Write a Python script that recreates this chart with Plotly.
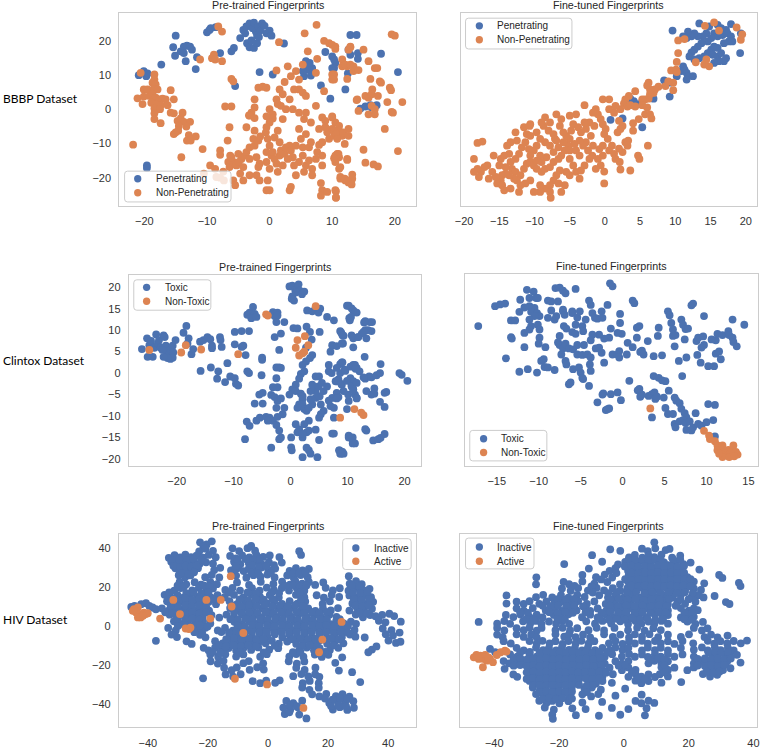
import plotly.graph_objects as go

BLUE = "#4C72B0"
ORANGE = "#DD8452"

# ---------------- BBBP pre-trained ----------------
bbbp_pre_pen = [
    [-15.0,21.7],[-15.4,18.3],[-14.2,17.1],[-13.7,18.5],[-13.2,18.8],[-12.7,18.5],[-12.4,17.6],[-13.7,16.6],[-13.4,14.2],[-15.1,15.8],[-11.6,15.4],[-11.8,11.9],[-17.3,13.2],
    [-10.0,22.7],[-9.6,23.4],[-9.4,23.9],[-8.6,24.2],[-7.9,16.6],[-6.1,17.1],[-5.7,18.1],
    [-4.7,21.0],[-4.2,23.4],[-3.9,22.4],[-3.7,24.4],[-3.2,25.3],[-2.7,23.9],[-2.5,25.5],[-2.2,22.9],[-2.0,21.7],[-1.8,24.4],[-1.5,23.2],[-1.2,25.3],[-0.8,24.6],[-0.5,22.4],[0.0,23.2],[-3.6,19.5],[-3.2,18.3],[-2.5,18.1],[-2.0,19.5],[-1.7,21.3],[-2.9,20.3],[0.3,21.7],[2.3,19.4],
    [-1.6,11.0],[0.5,10.3],[-5.5,6.9],
    [-20.9,10.1],[-20.1,11.3],[-19.7,9.8],[-19.5,10.6],[-19.6,-16.4],[-19.6,-17.2],
    [5.8,14.2],[5.9,12.7],[6.2,11.7],[5.5,9.8],[6.6,10.0],[6.8,12.2],[5.3,11.3],[6.4,13.7],
    [8.9,16.9],[10.0,15.6],[10.5,13.7],[10.3,12.2],[8.2,7.1],[9.7,3.2],[12.1,5.9],
    [12.9,21.9],[13.9,21.9],[12.6,17.6],[14.1,16.6],[14.1,14.9],[12.5,10.6],[12.9,16.1],
    [14.5,0.3],[15.3,0.9],[16.1,1.3],[17.8,16.4],[20.5,11.0],[17.1,1.3],[16.3,0.6],[10.3,14.7],[10.0,12.2],
]
bbbp_pre_non = [
    [-20.6,10.8],[-18.4,10.3],[-18.4,8.8],[-18.7,7.9],[-18.2,7.4],[-20.1,5.9],[-19.5,5.9],[-18.5,6.1],[-17.9,5.9],[-15.8,5.7],
    [-21.1,3.3],[-20.1,3.8],[-19.2,4.0],[-18.7,4.5],[-18.2,3.5],[-17.6,3.0],[-17.1,3.2],[-16.6,3.0],[-15.3,3.0],[-20.3,1.6],
    [-18.9,2.0],[-18.2,1.6],[-17.4,1.3],[-16.3,1.3],[-18.4,0.3],[-17.5,0.1],[-18.4,-1.1],[-15.8,-0.9],[-15.3,-1.1],[-13.9,-0.9],
    [-18.4,-2.8],[-17.4,-4.0],[-14.7,-3.3],[-14.2,-2.6],[-13.7,-3.6],[-12.7,-3.6],[-14.5,-4.8],[-13.3,-5.0],[-15.0,-6.7],[-15.3,-7.2],
    [-14.6,-6.2],[-12.9,-7.5],[-11.8,-7.9],[-13.2,-9.1],[-12.6,-9.1],[-21.8,-10.3],[-14.1,-14.0],
    [-8.2,24.4],[-7.6,22.9],[-8.9,16.1],[-9.2,15.1],[-8.7,14.7],[-11.1,14.7],[-7.6,14.2],[-6.1,9.0],[-5.8,8.3],[1.1,11.5],[1.5,19.8],[5.6,22.4],[7.5,24.9],
    [2.9,12.7],[4.2,11.3],[3.4,9.8],[2.4,8.1],[1.6,5.9],[2.1,4.5],[1.1,3.0],[1.3,1.6],[1.8,1.1],[2.6,0.1],[-0.5,6.4],[-1.1,6.7],[-1.8,6.4],
    [-2.4,3.0],[-2.9,-0.9],[-3.2,-1.8],[0.0,0.1],[0.5,-1.4],[0.5,-2.6],[0.0,-3.8],[-0.5,-2.0],[5.3,13.2],[4.7,5.9],[5.3,5.0],[5.8,4.0],
    [6.1,17.1],[7.6,14.9],[8.7,20.2],[9.5,19.5],[10.5,18.5],[11.6,14.7],[12.4,12.7],[12.9,18.5],[13.4,11.3],[10.0,10.3],[10.3,8.8],[8.7,5.4],
    [7.4,10.8],[4.7,8.8],[3.9,5.9],[3.2,3.0],[3.7,0.1],[4.7,-0.9],[5.5,-2.8],[7.4,1.1],[8.4,-2.3],[10.0,-2.3],[8.9,-3.3],[10.5,-3.8],[11.1,-4.8],
    [12.6,-5.7],[14.2,-0.4],[14.0,3.0],
    [-7.1,0.9],[-6.1,0.9],[-2.4,0.6],[-3.3,-1.7],[-6.4,-5.2],[-6.7,-9.1],[-3.7,-5.2],[-2.4,-2.5],
    [-10.7,-11.6],[-7.9,-12.0],[-9.5,-16.4],[-6.3,-13.5],[-5.0,-13.0],[-6.6,-15.4],[-6.4,-16.9],[-5.8,-15.4],[-5.3,-16.4],[-4.5,-14.5],
    [-3.9,-13.5],[-3.7,-12.5],[-3.2,-11.1],[-2.6,-8.6],[-2.4,-10.6],[-2.1,-14.0],[-1.6,-15.9],[-1.8,-16.9],[-3.2,-14.5],[-4.2,-16.9],
    [-4.7,-18.8],[-5.8,-20.8],[-5.5,-22.2],[-4.2,-20.8],[-3.2,-19.3],[-2.1,-19.3],[-1.6,-20.8],[-0.5,-15.4],[-0.5,-12.5],[0.0,-10.6],
    [-0.6,-6.7],[-0.5,-5.2],[-0.3,-8.6],[0.3,-13.5],[0.5,-12.5],[0.8,-14.5],[1.1,-15.9],[1.6,-13.5],[1.8,-12.0],[2.4,-13.0],
    [2.6,-11.1],[3.2,-10.6],[3.4,-12.0],[3.7,-14.0],[2.9,-14.5],[2.1,-16.4],[1.3,-18.3],[0.0,-17.4],[-0.3,-20.8],[-0.5,-23.7],
    [0.0,-23.7],[3.4,-22.7],[3.2,-23.7],[4.2,-19.3],[4.7,-15.4],[5.3,-13.5],[5.3,-11.1],[5.0,-8.6],[4.7,-5.7],[5.8,-7.2],
    [5.5,-18.3],[5.8,-16.4],[6.3,-14.9],[6.8,-17.4],[7.4,-14.5],[7.6,-12.5],[7.9,-10.4],[8.4,-9.6],[9.2,-6.7],[9.5,-8.6],
    [10.0,-5.7],[10.3,-7.7],[10.8,-13.0],[11.1,-14.0],[10.5,-15.4],[11.1,-17.4],[8.4,-13.5],[8.4,-16.4],[6.8,-19.3],[8.2,-21.6],
    [8.4,-23.7],[8.2,-25.3],[9.2,-24.2],[10.5,-23.7],[10.6,-25.9],[11.3,-20.3],[12.1,-20.8],[12.6,-21.4],[13.2,-20.3],[11.6,-7.7],
    [12.4,-14.5],[1.6,-9.6],[1.3,-6.2],[0.8,-8.2],[6.3,-11.1],[6.6,-9.6],[4.2,-10.6],[3.9,-16.4],[-1.8,-9.1],[-1.5,-7.9],
    [-2.4,-6.2],[2.1,-2.8],[5.8,-0.9],[6.6,-3.8],[7.9,-5.7],[8.9,-5.2],[11.1,-6.2],[-7.9,-13.3],[-6.1,-14.0],[-4.9,-15.4],
    [-8.7,-17.4],[-7.4,-18.2],[-10.5,-18.8],[-8.5,-19.8],[-7.9,-20.0],[-7.3,-20.8],
    [10.0,19.0],[10.5,17.8],[12.6,17.6],[12.9,18.3],[15.0,17.6],[19.5,22.1],[20.0,21.7],[15.8,14.2],[11.6,12.7],[12.1,13.2],
    [12.9,13.2],[13.4,12.7],[14.2,11.6],[16.8,12.2],[17.2,12.2],[10.3,10.3],[10.0,8.8],[12.4,9.0],[16.1,9.0],[17.6,8.3],
    [17.8,7.9],[19.2,6.4],[19.4,5.7],[16.4,5.9],[13.9,2.8],[15.3,4.0],[15.8,3.5],[16.3,4.5],[17.3,4.0],[18.8,2.2],
    [21.2,2.2],[16.3,1.1],[16.8,0.1],[15.8,-1.4],[16.8,-1.4],[19.5,-0.7],[19.7,-0.9],[10.0,-2.0],[18.4,-5.7],[20.5,-12.2],
    [15.0,-11.8],[15.3,-15.6],[16.6,-16.1],[17.3,-16.7],[10.3,-6.2],[10.6,-7.2],[11.8,-6.7],[12.6,-7.7],[10.8,-8.6],[12.0,-10.1],
    [11.0,-13.0],[10.5,-13.5],[10.3,-14.3],[12.4,-14.8],[11.3,-16.9],[11.3,-19.8],[12.0,-20.3],[12.5,-20.8],[13.2,-19.1],[13.1,-22.0],
    [10.6,-24.0],[10.6,-25.8],
]

# ---------------- BBBP fine-tuned ----------------
bbbp_ft_pen = [
    [9.6,23.2],[13.4,25.3],[14.8,24.4],[16.0,24.9],[16.5,23.9],[17.2,23.4],[17.9,25.1],[15.5,22.4],[16.0,21.5],[16.7,21.9],
    [17.4,22.4],[17.9,21.5],[17.6,20.0],[16.9,19.5],[14.4,22.4],[13.9,21.5],[13.2,21.5],[12.7,22.4],[12.3,21.5],[11.8,22.9],
    [11.6,21.0],[11.1,21.5],[15.1,21.0],[14.6,20.0],[13.7,19.5],[13.2,18.5],[12.7,17.6],[12.3,16.8],[12.0,15.6],[12.7,14.7],
    [13.4,15.1],[14.1,15.6],[14.6,16.6],[15.1,17.6],[15.5,18.5],[16.0,18.1],[15.3,16.1],[16.0,15.6],[16.5,16.6],[17.2,15.1],
    [16.9,14.2],[16.2,14.2],[15.5,13.7],[19.2,16.6],[19.3,22.4],[18.1,20.0],
    [11.1,12.7],[11.3,11.7],[11.6,10.8],[11.6,8.8],[11.8,9.8],[12.5,9.8],[10.9,11.3],[10.2,9.8],[9.2,7.9],[8.4,8.6],
    [9.2,3.8],[6.9,3.2],[3.6,3.2],[4.1,2.5],[4.8,1.6],[0.8,-3.0],[2.5,-2.6],[5.3,-5.2],
]
bbbp_ft_non = [
    [14.2,24.6],[15.5,25.6],[16.2,23.2],[18.7,24.1],[19.5,22.1],[19.3,20.5],[10.4,20.3],[11.3,20.7],[10.4,16.6],[10.2,14.0],
    [10.1,11.7],[9.4,11.5],[10.2,11.0],[12.9,13.9],[14.1,13.2],[14.8,12.7],[14.4,14.7],[9.7,7.9],[9.7,5.7],[8.6,6.9],
    [7.6,6.7],[7.1,5.9],[6.9,4.9],[6.4,4.5],[6.2,3.2],[5.7,3.0],[6.2,7.9],[6.4,5.9],[5.3,3.0],[6.0,7.1],[9.0,8.3],
    [4.3,5.4],[3.4,4.0],[2.9,3.0],[2.7,1.8],[3.2,0.9],[3.6,1.3],[4.3,0.9],[5.3,1.3],[6.0,0.6],[6.6,-2.6],
    [4.8,-2.8],[4.0,-4.0],[4.0,-6.2],[2.2,0.1],[2.0,-3.3],[2.5,-4.8],[2.2,-5.7],[1.8,-6.7],[-0.3,3.0],[0.6,3.0],
    [-1.3,0.1],[-1.0,-1.4],[-1.7,-0.9],[-0.6,-2.8],[-0.3,-4.3],[0.1,-5.7],[-0.1,-7.2],[0.4,-8.6],[1.0,-10.6],[0.6,-12.0],
    [1.3,-13.0],[1.5,-14.5],[2.1,-15.4],[2.2,-17.6],[2.9,-9.6],[3.3,-9.1],[3.2,-10.6],[2.5,-12.5],[2.0,-11.5],[3.6,-17.9],
    [4.7,-13.5],[4.9,-14.5],[6.1,-10.6],[0.6,0.1],[1.3,-0.9],[1.5,1.1],[5.7,-1.4],[6.4,-1.4],
    [-2.9,1.3],[-4.1,-1.4],[-5.0,-1.8],[-4.5,-4.3],[-3.8,-5.2],[-2.7,-5.7],[-2.2,-3.8],[-1.5,-4.8],[-3.4,-6.7],[-2.0,-7.7],
    [-2.7,-9.6],[-1.7,-10.6],[-0.8,-11.6],[-0.3,-13.5],[-1.0,-14.5],[-0.6,-16.4],[-1.3,-17.4],[-1.8,-13.5],[-2.4,-12.0],[-3.1,-10.6],
    [-2.2,-14.5],[-2.9,-16.4],[-3.6,-13.5],[-4.1,-12.0],[-4.3,-10.1],[-5.0,-8.6],[-5.5,-7.7],[-4.8,-6.2],[-5.9,-6.7],[-6.4,-4.8],
    [-6.2,-2.8],[-6.9,-1.4],[-7.8,-3.8],[-8.5,-2.3],[-8.7,-4.8],[-8.0,-6.2],[-7.3,-7.2],[-7.1,-8.6],[-7.8,-10.6],[-8.5,-9.6],
    [-9.2,-8.6],[-9.7,-10.6],[-10.1,-12.0],[-10.6,-13.5],[-10.8,-11.6],[-11.3,-9.6],[-11.8,-11.1],[-12.2,-13.0],[-12.7,-14.5],[-13.4,-15.4],
    [-13.2,-17.4],[-12.7,-18.3],[-12.0,-19.3],[-11.5,-17.4],[-11.1,-15.9],[-10.6,-15.4],[-10.1,-16.4],[-9.7,-17.4],[-9.0,-18.3],[-8.5,-17.4],
    [-7.8,-16.9],[-7.3,-15.4],[-6.6,-14.5],[-6.2,-13.5],[-5.7,-12.0],[-5.2,-10.6],[-5.9,-9.6],[-6.6,-11.1],[-7.3,-12.5],[-8.3,-14.0],
    [-9.0,-15.4],[-9.2,-13.5],[-9.7,-15.0],[-5.0,-14.5],[-4.5,-16.4],[-4.1,-18.3],[-3.4,-17.9],[-3.6,-20.3],[-5.0,-19.3],[-5.5,-18.3],
    [-6.4,-17.9],[-6.9,-19.3],[-7.3,-20.8],[-7.8,-22.2],[-8.5,-23.2],[-9.2,-24.2],[-10.1,-24.2],[-7.8,-24.2],[-7.7,-25.9],[-6.2,-24.2],
    [-5.7,-22.2],[-6.6,-21.7],[-10.6,-20.8],[-11.3,-21.7],[-12.0,-22.2],[-12.5,-20.8],[-12.9,-20.3],[-13.6,-19.3],[-14.1,-18.8],[-14.6,-19.3],
    [-14.8,-20.8],[-15.3,-21.7],[-15.5,-19.8],[-16.0,-18.3],[-16.7,-16.4],[-17.1,-16.9],[-17.6,-18.3],[-18.1,-17.4],[-18.6,-18.3],[-18.6,-14.5],
    [-18.1,-9.8],[-17.4,-9.4],[-15.8,-13.5],[-14.8,-14.5],[-14.1,-16.9],[-13.6,-13.0],[-13.9,-10.6],[-12.5,-9.1],[-12.7,-6.7],[-11.5,-5.2],
    [-10.6,-4.3],[-11.1,-7.2],[-9.7,-6.7],[-9.0,-3.8],[-10.6,-7.7],[-13.4,-9.6],[-14.3,-13.5],[-15.0,-16.4],[-17.9,-19.8],[-16.5,-20.3],
    [-14.6,-22.2],[-14.3,-23.7],[-12.2,-24.2],[-9.2,-22.2],[-13.4,-23.2],[-10.7,-4.8],[-6.9,-9.1],[-5.0,-12.0],[-3.6,-9.1],[-2.9,-3.8],
    [-0.3,-10.6],[-0.1,-18.2],[-0.1,-21.7],
]

# ---------------- Clintox pre-trained ----------------
clintox_pre_toxic = [
    [-26.1,5.6],[-25.2,8.1],[-24.8,6.5],[-24.5,7.5],[-23.9,5.9],[-23.6,9.0],[-23.3,6.9],[-23.1,7.7],[-22.8,5.9],[-22.3,8.8],
    [-22.1,8.4],[-21.9,6.4],[-21.7,5.0],[-21.5,4.1],[-21.0,5.4],[-20.7,6.4],[-20.6,4.8],[-21.1,3.3],[-20.7,3.6],[-21.6,3.5],
    [-25.1,3.8],[-24.2,3.8],[-22.3,3.8],[-22.5,5.4],[-20.2,7.7],[-18.8,9.4],[-18.3,11.0],[-17.9,8.1],[-18.1,6.9],[-17.4,4.4],
    [-17.1,5.6],[-15.9,7.3],[-15.3,7.7],[-14.6,8.4],[-14.1,7.9],[-13.8,5.8],[-13.8,6.4],[-12.4,8.4],[-12.3,7.7],[-12.1,6.1],
    [-15.8,0.5],[-14.0,1.3],[-12.7,0.4],[-12.9,-1.3],[-11.5,-2.1],[-11.1,2.3],[-10.6,-0.8],[-9.8,-1.2],[-9.6,-2.5],[-9.2,-2.9],
    [-9.8,9.6],[-8.6,9.8],[-7.3,9.8],[-9.8,6.7],[-8.6,6.1],[-8.3,6.4],[-7.9,4.2],[-7.6,0.4],[-7.3,0.0],[-5.0,3.6],
    [-5.0,3.1],[-5.1,-0.5],[-5.5,-5.0],[-6.3,-7.1],[-4.9,-4.6],[-4.9,-7.1],[-6.0,-11.1],[-5.4,-10.4],[-7.7,-11.3],[-7.2,-12.3],
    [-8.0,-15.4],[-7.6,13.6],[-7.2,14.1],[-6.6,15.4],[-6.3,13.8],[-6.9,12.8],[-6.0,13.1],[-3.1,14.2],[-2.8,13.3],[-2.3,14.1],
    [-2.3,13.4],[-2.5,11.9],[-2.8,8.4],[-1.7,9.2],[-2.0,5.4],[-2.5,1.3],[-2.0,1.3],[-1.7,1.2],[-2.5,-1.2],[-3.1,-3.3],
    [-2.3,-3.3],[-3.4,-5.1],[-2.8,-5.6],[-2.3,-6.5],[-1.7,-5.9],[-2.5,-8.1],[-1.1,-8.1],[-1.4,-9.6],[-4.3,-10.2],[-3.7,-10.4],
    [-3.1,-11.1],[-4.0,-11.1],[-2.3,-10.2],[-2.5,-12.1],[-2.0,-13.4],[-1.7,-15.0],[-2.0,-15.4],[-3.4,-17.4],
    [-0.2,20.2],[0.3,20.4],[0.8,19.4],[1.4,20.7],[1.6,19.2],[0.9,18.8],[2.0,18.4],[0.3,17.9],[0.6,16.9],[0.2,17.3],
    [2.4,19.0],[-1.1,11.9],[0.5,10.5],[1.2,10.4],[2.8,10.8],[3.4,9.6],[2.9,14.6],[3.8,14.4],[4.4,15.0],[4.9,14.1],
    [5.2,15.0],[5.1,9.6],[6.4,13.1],[7.6,12.3],[3.7,7.8],[2.7,5.9],[3.8,4.2],[3.4,3.5],[2.7,2.7],[2.1,1.9],
    [1.8,-0.2],[2.4,0.4],[1.5,-1.3],[0.9,-2.7],[0.3,-3.8],[0.9,-4.2],[-0.2,-5.0],[1.8,-4.8],[2.1,-5.4],[2.1,-6.1],
    [1.5,-7.3],[2.1,-7.3],[1.2,-8.1],[2.4,-8.4],[2.8,-8.8],[3.2,-8.1],[3.8,-7.3],[3.5,-6.1],[4.4,-5.8],[5.1,-5.4],
    [5.3,-7.3],[4.4,-4.2],[3.5,-4.2],[3.8,-2.7],[4.9,-3.1],[5.0,-0.8],[4.4,-0.8],[5.5,-2.3],[5.8,-4.2],[6.4,-3.1],
    [6.7,0.4],[6.7,1.9],[7.2,0.0],[7.9,-1.9],[8.4,-1.5],[9.0,-2.7],[8.7,0.0],[9.5,0.8],[8.7,2.1],[9.0,2.5],
    [7.0,5.0],[7.3,6.5],[8.1,6.3],[9.0,6.9],[9.1,8.8],[8.9,9.4],[8.1,-4.6],[7.3,-5.8],[6.7,-6.4],[7.0,-7.7],
    [5.8,-8.8],[5.3,-9.6],[5.0,-10.4],[3.2,-11.1],[2.4,-11.9],[1.5,-13.1],[0.9,-11.9],[1.2,-13.8],[2.1,-15.0],[2.8,-13.8],
    [3.2,-13.4],[4.4,-13.2],[2.1,-14.2],[0.1,-15.0],[0.1,-17.3],[0.2,-18.0],[2.8,-17.4],[3.2,-18.0],[3.5,-18.8],[2.1,-19.6],
    [4.7,-19.6],[5.0,-15.6],[7.3,-14.1],[8.6,-18.0],[9.0,-18.4],[8.7,-18.8],[10.2,-15.0],[10.8,-15.4],[10.9,-16.4],[7.6,-10.4],
    [9.9,-8.4],[10.2,-6.5],[10.1,-5.0],[9.3,-4.2],[11.0,-3.8],[11.3,-5.0],[11.6,-5.8],[10.5,-1.2],[10.7,-2.7],[11.0,-1.9],
    [10.5,1.5],[11.3,1.9],[11.6,1.2],[12.1,0.4],[13.1,-1.3],[13.8,-0.8],[14.2,-5.0],[13.3,-13.4],[10.7,8.8],[11.0,8.1],
    [11.9,8.4],[12.5,9.2],[13.1,10.0],[13.9,11.9],[13.6,10.0],[10.3,12.8],[10.4,12.3],[11.0,14.6],[11.6,14.1],[10.2,15.7],
    [10.7,15.1],[9.9,15.7],[11.3,14.2],[10.6,13.1],[12.9,11.8],[13.1,12.1],[14.3,11.9],[8.7,9.8],[9.3,8.7],[11.8,8.4],
    [12.8,9.6],[13.3,8.1],[14.2,9.8],[11.0,6.0],[13.0,3.8],[9.2,6.9],[9.1,2.5],[8.1,1.2],[9.6,0.5],[11.0,1.9],
    [11.4,1.0],[12.8,-1.0],[14.2,-1.0],[15.1,-0.5],[15.7,0.0],[15.8,2.1],[19.1,0.0],[19.5,-0.4],[20.5,-1.8],[8.1,-1.9],
    [8.9,-2.5],[9.9,-1.8],[10.7,-3.1],[11.6,-2.3],[11.0,-3.8],[13.3,-4.2],[14.7,-3.6],[14.7,-4.8],[16.5,-4.6],[16.8,-4.4],
    [15.7,-6.7],[16.5,-7.9],[8.4,-5.6],[8.1,-5.9],[11.6,-5.9],[7.6,-8.1],[13.1,-13.1],[7.6,-14.1],[10.2,-14.6],[10.9,-15.0],
    [11.3,-16.4],[14.5,-15.7],[15.4,-15.4],[15.8,-15.1],[16.5,-14.2],[8.5,-18.0],[9.1,-18.4],[9.3,-18.8],[8.9,-18.8],
]
clintox_pre_non = [
    [-24.8,5.4],[-18.4,6.5],[-19.2,4.8],[-15.7,5.5],[-9.2,4.4],[-4.3,13.7],[-4.0,13.4],[4.4,15.6],
    [1.2,7.7],[2.5,8.6],[0.9,5.9],[1.5,4.1],[2.1,4.6],[2.4,5.0],[3.1,6.5],
    [8.7,-10.4],[11.2,-8.4],[12.4,-9.2],[12.8,-9.8],
]

# ---------------- Clintox fine-tuned ----------------
clintox_ft_toxic = [
    [-17.2,10.8],[-15.2,15.4],[-14.6,15.8],[-14.0,16.0],[-13.3,12.1],[-12.8,12.1],[-13.3,8.2],[-13.2,7.9],[-13.9,3.3],[-12.3,0.2],
    [-11.4,19.2],[-10.6,18.8],[-12.2,16.9],[-12.3,14.1],[-11.7,15.1],[-11.1,17.3],[-10.3,17.3],[-10.1,17.3],
    [-11.1,15.4],[-10.5,15.0],[-10.9,14.1],[-10.2,13.8],[-9.9,13.1],[-10.5,13.1],[-11.1,12.3],[-10.9,10.8],[-11.7,9.2],[-11.7,5.9],
    [-11.1,10.0],[-10.1,11.1],[-9.9,10.0],[-9.9,8.1],[-10.0,6.7],[-9.2,5.9],[-9.7,2.7],[-9.4,3.1],[-9.3,1.3],[-8.9,1.2],
    [-11.3,0.8],[-10.2,0.0],[-8.1,0.6],[-8.9,16.7],[-8.5,16.5],[-8.5,14.4],[-8.9,12.7],[-8.1,12.3],[-7.9,13.1],
    [-8.0,19.6],[-7.5,19.7],[-7.1,19.0],[-6.8,18.4],[-7.7,16.5],[-7.1,14.6],[-7.1,14.2],[-6.9,13.4],[-7.0,10.8],[-6.7,10.2],
    [-7.5,8.5],[-7.7,7.0],[-7.5,6.4],[-7.1,5.6],[-7.3,4.2],[-6.8,6.7],[-6.4,5.6],[-6.8,2.7],[-6.4,-2.7],[-6.2,-2.3],
    [-5.6,19.4],[-6.0,14.2],[-6.0,13.8],[-5.4,12.8],[-5.1,14.2],[-5.6,11.1],[-6.0,9.4],[-5.6,9.0],[-4.8,10.8],[-4.7,9.6],
    [-4.4,12.3],[-4.0,16.7],[-3.8,15.7],[-3.6,13.8],[-3.3,12.7],[-3.0,12.5],[-2.5,14.2],[-2.4,12.7],[-1.8,15.7],[-1.5,20.7],
    [-1.2,20.0],[-0.3,13.6],[-0.3,11.5],[-0.1,9.0],[-0.6,9.2],[-1.4,10.2],[-1.6,8.1],[-2.2,7.9],[-2.8,8.8],[-3.6,8.8],
    [-3.8,7.5],[-4.6,6.4],[-5.4,6.4],[-5.9,5.4],[-5.4,4.2],[-4.8,4.1],[-4.2,4.2],[-3.8,3.5],[-3.2,5.6],[-2.8,5.8],
    [-2.5,4.6],[-2.2,2.3],[-1.2,4.2],[-0.6,4.2],[-0.4,5.0],[0.5,4.2],[0.6,6.9],[-0.4,3.5],
    [-6.7,1.9],[-5.9,0.8],[-5.2,1.2],[-5.0,0.0],[-4.7,-1.5],[-4.0,-3.1],[-4.8,-1.2],[-3.8,0.4],[-3.9,1.9],
    [-3.0,-6.9],[-2.4,-5.1],[-2.3,-4.8],[-1.4,-5.0],[-0.6,-4.6],[-0.2,-6.4],[-2.0,-8.7],[-1.6,-8.3],[-1.8,-8.5],
    [0.8,-1.9],[1.8,-4.1],[2.0,-3.8],[2.3,-5.1],[1.2,5.9],[2.1,4.8],[2.3,5.1],[2.5,4.2],[3.0,7.3],[3.7,3.8],
    [4.7,4.0],[1.2,16.7],[1.4,16.1],[1.7,10.4],[2.0,10.8],[1.7,8.1],[4.2,8.5],[4.3,10.4],[5.4,14.2],[5.6,13.3],
    [5.8,11.5],[6.0,10.0],[6.0,8.5],[6.3,8.7],[6.2,6.1],[6.7,2.7],[7.0,12.3],[7.2,11.1],[7.5,10.1],[7.8,10.2],
    [8.2,15.6],[8.4,16.0],[7.4,7.7],[7.6,3.5],[7.1,-0.8],
    [8.8,7.3],[9.0,8.1],[9.6,8.4],[9.7,6.4],[8.9,4.1],[9.4,5.8],[9.3,2.3],[10.2,1.5],[10.9,1.5],[11.1,4.4],
    [11.7,3.1],[11.5,4.9],[11.1,7.5],[10.6,7.7],[9.7,13.1],[11.3,9.0],[11.9,8.7],[12.6,9.6],[12.7,8.7],[13.1,8.1],
    [13.2,7.1],[13.6,6.1],[13.1,12.3],[14.5,11.1],
    [2.1,-5.6],[3.7,-0.8],[4.3,-1.2],[4.7,-1.8],[5.1,-2.0],[3.1,-5.4],[3.5,-5.0],[3.8,-4.6],[3.9,-6.1],[3.5,-10.4],
    [4.1,-5.6],[4.9,-5.8],[5.1,-8.2],[5.4,-9.6],[6.0,-9.6],[6.2,-11.9],[6.3,-12.7],[5.5,-4.2],
    [6.2,-5.8],[6.4,-6.5],[6.8,-7.1],[7.0,-8.4],[7.4,-9.4],[7.6,-10.4],[7.2,-11.0],[6.8,-11.3],[7.5,-11.7],[8.0,-11.3],
    [8.4,-12.7],[8.7,-9.4],[7.6,-13.3],[8.2,-13.4],[9.0,-11.9],[9.4,-12.3],[10.0,-11.5],[10.2,-7.3],[11.0,-7.5],[10.8,-11.0],
    [11.0,-14.8],
]
clintox_ft_non = [
    [3.3,-8.3],[9.7,-13.5],[10.3,-14.6],[10.4,-15.4],[11.0,-15.9],[11.3,-16.9],[11.3,-18.0],[11.7,-17.7],[11.9,-16.9],[12.1,-18.4],
    [12.3,-19.2],[12.6,-17.9],[12.8,-18.8],[13.1,-18.0],[13.2,-16.9],[13.5,-18.4],[13.7,-19.0],[11.9,-19.6],[12.7,-19.6],[13.3,-19.4],
    [11.5,-18.8],
]

# ---------------- HIV pre-trained ----------------
hiv_pre_inactive = [
    [-22.6,42.9],[-20.4,41.8],[-18.7,43.4],[-21.5,40.6],
    [-22.9,38.2],[-20.8,39.6],[-18.3,38.5],[-11.8,39.8],[-9.6,38.4],[-6.8,39.9],[-4.3,38.6],[-5.6,41.0],[10.4,38.3],[11.0,36.4],
    [-33.0,34.9],[-31.1,36.3],[-29.2,35.1],[-27.5,36.6],[-25.6,35.3],[-23.8,36.0],[-21.6,35.0],[-19.7,36.4],[-17.4,35.2],[-12.6,35.9],
    [-10.7,34.6],[-8.6,36.2],[-6.2,35.1],[-3.9,36.5],[-1.6,35.4],[0.6,36.1],[3.8,35.3],
    [-32.2,32.9],[-30.4,31.5],[-28.3,32.8],[-26.6,31.6],[-24.7,33.0],[-22.8,31.7],[-20.6,32.6],[-18.3,31.9],[-11.3,32.9],[-9.2,31.6],
    [-6.4,32.2],[-4.1,33.1],[-2.0,31.6],[0.3,32.7],[2.0,31.2],[4.6,32.5],
    [-30.8,29.5],[-29.0,28.0],[-27.1,29.3],[-25.3,28.2],[-23.3,29.6],[-17.9,28.6],[-15.9,29.8],[-12.3,28.4],[-10.2,29.6],[-8.1,28.1],
    [-6.4,29.3],[-4.3,28.5],[-2.2,29.9],[0.1,28.7],[2.4,29.4],[7.2,28.2],[9.3,29.6],[11.5,28.5],[13.6,29.2],
    [-29.7,26.0],[-27.6,24.9],[-25.8,25.9],[-20.9,25.0],[-18.7,26.2],[-16.2,24.8],[-10.6,25.8],[-7.2,24.7],[-4.8,26.0],[-2.5,25.2],
    [-0.2,26.3],[2.2,24.8],[6.4,25.9],[8.6,24.6],[10.9,26.1],[13.2,25.0],[26.9,25.5],
    [-29.4,22.6],[-27.2,21.3],[-24.4,22.4],[-22.3,21.1],[-19.2,22.5],[-17.0,21.4],[-10.3,22.3],[-6.3,21.0],[-2.4,22.6],[1.8,21.5],
    [4.7,22.7],[7.3,21.2],[9.1,22.9],[11.4,21.6],[13.6,22.5],[15.7,21.0],[18.4,22.3],[27.2,21.6],[29.3,22.9],[31.2,21.4],
    [-31.2,18.1],[-29.0,19.4],[-25.2,18.2],[-23.0,19.5],[-20.6,18.0],[-18.3,19.2],[-14.2,18.4],[-11.8,19.5],[-9.3,18.1],[-5.3,19.3],
    [-2.8,18.0],[-0.4,19.6],[2.0,18.3],[4.6,19.4],[7.0,18.1],[9.6,19.3],[12.1,18.0],[19.2,19.5],[21.6,18.2],[23.9,19.3],
    [26.8,18.0],[29.2,19.4],[31.7,18.3],[33.8,19.0],
    [-34.4,15.9],[-32.3,14.6],[-30.1,15.7],[-28.2,14.5],[-26.0,16.0],[-23.6,14.8],[-21.3,15.9],[-19.0,14.6],[-16.8,15.8],[-14.4,14.7],
    [-11.3,15.9],[-8.2,14.6],[-5.4,16.0],[-2.6,14.7],[0.6,15.8],[3.6,14.5],[9.3,15.9],[12.1,14.7],[16.2,15.7],[18.6,14.4],
    [21.2,15.9],[23.7,14.8],[27.1,15.6],[29.6,14.5],[32.2,15.8],[34.3,14.7],
    [-33.6,12.6],[-31.2,11.4],[-28.8,12.5],[-26.6,11.2],[-24.5,12.7],[-22.1,11.5],[-19.7,12.4],[-17.3,11.1],[-12.8,12.6],[-10.2,11.3],
    [-7.6,12.5],[-5.3,11.2],[-2.9,12.8],[-0.4,11.5],[2.1,12.6],[4.7,11.3],[7.2,12.7],[9.8,11.4],[12.4,12.5],[18.2,11.2],
    [20.6,12.6],[28.1,11.5],[30.4,12.8],[32.8,11.3],[35.0,12.3],
    [-35.3,9.0],[-33.1,7.8],[-30.8,9.1],[-28.7,7.9],[-26.3,9.2],[-24.1,7.7],[-21.8,8.9],[-19.6,7.8],[-12.6,9.1],[-10.0,7.8],
    [-7.7,9.2],[-5.1,8.0],[-1.8,9.0],[0.7,7.7],[3.3,9.1],[5.8,7.9],[8.4,9.2],[10.9,7.8],[13.4,8.9],[15.8,7.6],
    [18.3,9.0],[20.9,7.9],[23.3,9.1],[27.1,7.8],[29.7,9.2],[32.0,7.9],[34.6,8.8],
    [-32.7,5.7],[-30.4,4.4],[-28.3,5.6],[-26.2,4.3],[-23.9,5.8],[-21.7,4.6],[-18.8,5.5],[-16.2,4.2],[-13.8,5.7],[-11.3,4.5],
    [-8.7,5.9],[-6.8,4.4],[-4.4,5.6],[-2.1,4.3],[0.4,5.8],[2.8,4.6],[5.3,5.7],[7.8,4.4],[10.2,5.9],[12.8,4.5],
    [15.3,5.6],[17.8,4.3],[20.4,5.7],[22.8,4.6],[29.2,5.8],[31.6,4.4],[34.0,5.5],[35.8,4.9],[38.0,5.6],[40.4,6.2],[42.0,5.0],
    [-31.3,2.3],[-29.1,1.0],[-26.7,2.2],[-24.3,1.1],[-21.6,2.4],[-19.2,1.2],[-11.2,2.1],[-8.8,0.9],[-6.3,2.3],[-3.7,1.0],
    [-1.3,2.5],[1.2,1.1],[3.6,2.2],[6.2,0.9],[8.6,2.4],[11.1,1.2],[13.7,2.3],[16.1,1.0],[18.6,2.2],[20.8,0.9],
    [22.7,2.5],[25.2,1.2],[27.6,2.1],[29.3,1.0],[36.9,2.6],[39.1,1.8],[44.2,2.1],
    [-33.2,-1.1],[-30.7,-2.4],[-25.7,-1.2],[-23.2,-2.3],[-20.8,-1.0],[-16.7,-2.4],[-14.3,-1.1],[-11.7,-2.5],[-9.2,-1.0],[-6.7,-2.3],
    [-4.2,-1.2],[-1.6,-2.5],[0.8,-1.0],[3.3,-2.3],[5.8,-1.1],[8.3,-2.4],[10.9,-1.0],[13.3,-2.2],[15.8,-1.1],[18.2,-2.4],
    [20.6,-1.2],[23.1,-2.3],[25.4,-1.0],[28.8,-2.1],[38.2,-1.4],[41.1,-2.2],
    [-32.1,-4.5],[-30.3,-5.8],[-22.6,-4.6],[-20.8,-5.9],[-12.7,-4.4],[-10.3,-5.7],[-7.8,-4.6],[-5.2,-5.8],[-2.7,-4.3],[-0.2,-5.6],
    [2.3,-4.4],[4.8,-5.9],[7.1,-4.5],[9.6,-5.7],[12.2,-4.4],[14.6,-5.8],[17.2,-4.6],[19.6,-5.9],[22.1,-4.4],[24.6,-5.7],
    [27.3,-4.5],[29.1,-5.6],[32.2,-6.0],[39.2,-4.3],[41.6,-5.0],[43.8,-3.5],
    [-37.3,-7.7],[-27.1,-8.0],[-25.4,-9.3],[-17.6,-7.9],[-15.1,-9.1],[-12.7,-7.8],[-10.2,-9.2],[-7.7,-8.0],[-5.2,-9.3],[-2.7,-7.9],
    [-0.8,-9.0],[1.3,-7.7],[3.6,-9.2],[6.4,-8.1],[9.4,-9.3],[11.8,-7.9],[14.4,-9.1],[16.9,-7.8],[19.7,-9.2],[22.3,-8.0],
    [25.1,-9.0],[40.1,-7.6],[42.6,-8.8],[44.1,-8.2],
    [-21.4,-11.3],[-19.8,-12.6],[-17.6,-11.2],[-15.2,-12.5],[-13.1,-11.4],[-10.6,-12.7],[-8.1,-11.3],[-5.6,-12.4],[-3.2,-11.1],[0.4,-12.3],
    [3.4,-11.5],[10.4,-12.5],[12.9,-11.2],[15.3,-12.6],[17.2,-11.5],[20.6,-12.4],[23.4,-11.3],[34.6,-12.2],[36.1,-10.6],
    [-19.2,-14.7],[-16.6,-15.9],[-14.2,-14.6],[-10.6,-15.8],[-8.2,-14.7],[-2.6,-15.9],[-0.4,-14.6],[7.1,-15.8],[9.4,-14.5],[11.8,-15.9],
    [15.6,-14.8],[17.9,-16.0],[20.1,-14.9],[24.7,-16.2],[33.4,-13.6],
    [-19.1,-18.2],[-16.7,-19.4],[-14.8,-18.0],[-8.2,-19.2],[-6.4,-18.1],[-1.6,-19.3],[6.9,-18.2],[9.6,-19.5],[12.1,-18.3],[22.4,-19.0],
    [-21.6,-27.0],[-14.6,-21.5],[-12.1,-22.8],[-10.4,-21.4],[-6.1,-22.6],[-3.6,-21.3],[-1.4,-22.5],[9.4,-21.6],[12.2,-22.7],[15.8,-21.5],
    [23.6,-23.0],[28.0,-23.8],
    [-14.1,-25.0],[-11.6,-26.1],[-9.1,-24.9],[8.4,-25.9],[11.1,-24.8],[13.4,-26.0],[15.7,-24.9],[17.1,-26.2],
    [-5.1,-28.4],[-2.6,-29.5],[-0.6,-28.2],[2.4,-29.3],[3.9,-28.0],[11.6,-29.4],[13.9,-28.3],[16.9,-29.5],[30.7,-28.9],
    [11.4,-31.7],[13.8,-32.9],[16.9,-31.8],
    [14.7,-35.2],[17.1,-36.3],[19.4,-35.0],[22.6,-36.1],[24.8,-35.1],[27.1,-36.4],
    [6.1,-38.6],[8.4,-39.7],[11.4,-38.5],[20.4,-39.6],[22.9,-38.4],[25.6,-39.8],[28.4,-38.7],[25.7,-38.3],
    [5.1,-42.0],[7.4,-43.1],[9.9,-41.9],[21.6,-43.0],[23.9,-41.8],[26.4,-43.2],[28.6,-42.1],
    [5.6,-45.3],[7.1,-44.4],[10.4,-45.6],[12.8,-47.6],
    [-45.5,9.7],[-44.4,10.2],[-42.2,11.1],[-40.6,11.6],[-39.5,10.2],[-38.4,9.4],[-37.3,8.5],
    # denser core regions
    [-31.8,33.9],[-29.6,34.2],[-27.0,33.7],[-24.9,34.4],[-22.3,33.8],[-10.1,33.6],[-7.5,34.3],[-5.0,33.9],[-2.7,34.4],
    [-31.5,30.8],[-29.2,30.2],[-27.4,30.9],[-25.5,30.4],[-23.8,31.0],[-10.8,30.6],[-5.3,30.9],[-3.0,30.3],[-0.6,30.7],
    [-28.5,27.2],[-26.4,26.6],[-24.6,27.5],[-11.3,27.0],[-5.6,27.3],[-3.2,26.8],[1.0,27.2],[8.3,27.1],[10.3,26.9],[12.5,27.4],
    [-30.1,20.6],[-28.0,20.1],[-21.4,20.8],[-19.5,20.2],[5.8,20.5],[8.3,20.9],[10.6,20.3],[12.8,20.7],[28.0,20.6],[30.4,20.2],
    [-32.9,17.1],[-27.2,16.8],[-24.8,17.3],[-22.2,16.7],[-19.8,17.2],[-12.8,17.0],[-6.8,17.1],[-3.9,16.7],[1.3,17.2],[3.7,16.8],
    [10.6,17.0],[28.3,17.1],[30.7,16.8],[33.1,17.3],
    [-33.0,13.8],[-30.6,13.4],[-27.4,13.9],[-25.1,13.3],[-22.8,13.8],[-18.2,13.5],[-9.4,13.6],[-6.6,13.2],[-4.1,13.9],[-1.4,13.4],
    [1.5,13.7],[11.0,13.5],[28.6,13.7],[31.2,13.3],[33.6,13.8],
    [-32.4,10.4],[-29.9,9.9],[-27.5,10.6],[-25.3,10.0],[-23.0,10.5],[-20.6,10.1],[-11.4,10.3],[-8.8,10.0],[-6.3,10.6],[-3.7,10.2],
    [-1.1,10.5],[1.5,10.0],[4.0,10.4],[6.6,10.1],[9.1,10.6],[11.6,10.2],[29.0,10.4],[31.4,10.0],[33.5,10.5],
    [-34.2,6.9],[-31.9,6.5],[-29.6,7.1],[-27.3,6.6],[-25.1,7.0],[-22.8,6.4],[-20.6,6.9],[-11.3,6.7],[-8.6,6.5],[-6.2,7.0],
    [-3.4,6.6],[-0.8,7.1],[1.9,6.4],[4.4,6.9],[7.0,6.5],[9.6,7.0],[12.1,6.6],[14.6,7.0],[17.1,6.5],[19.6,7.0],[30.4,6.7],[32.9,6.4],
    [-30.0,3.5],[-27.5,3.2],[-25.2,3.7],[-22.9,3.1],[-12.5,3.4],[-10.0,3.2],[-7.5,3.6],[-5.2,3.1],[-2.6,3.5],[-0.1,3.2],
    [2.4,3.7],[4.9,3.3],[7.4,3.6],[9.9,3.1],[12.4,3.5],[14.9,3.2],[17.4,3.6],[19.6,3.3],[23.9,3.4],
    [-30.0,-0.1],[-27.6,0.3],[-25.0,-0.2],[-22.5,0.2],[-20.1,-0.3],[-10.2,0.1],[-7.7,-0.3],[-5.2,0.2],[-2.8,-0.2],[-0.3,0.3],
    [2.2,-0.1],[4.7,0.2],[7.2,-0.3],[9.7,0.1],[12.2,-0.2],[14.7,0.3],[17.2,-0.1],[19.5,0.2],[22.0,-0.2],[24.3,0.3],[26.6,-0.1],
    [-24.5,-3.3],[-21.9,-3.6],[-15.5,-3.2],[-13.0,-3.5],[-10.5,-3.3],[-8.0,-3.7],[-5.5,-3.2],[-3.0,-3.5],[-0.5,-3.3],[2.0,-3.6],
    [4.5,-3.2],[7.0,-3.5],[9.5,-3.3],[12.0,-3.6],[14.5,-3.2],[17.0,-3.5],[19.4,-3.3],[21.9,-3.6],[24.2,-3.1],[26.5,-3.4],
    [-13.9,-6.9],[-11.3,-6.6],[-8.8,-7.0],[-6.3,-6.6],[-3.8,-7.1],[-1.5,-6.7],[8.2,-6.9],[10.8,-6.5],[13.3,-7.0],[15.8,-6.7],
    [18.4,-7.1],[21.0,-6.6],[23.7,-7.0],
    [-16.3,-10.1],[-14.0,-10.5],[-11.5,-10.0],[-9.0,-10.4],[-6.5,-10.1],[-4.0,-10.5],[2.3,-10.2],[11.4,-10.3],[13.9,-10.0],[16.3,-10.4],[21.8,-10.1],
    [-18.4,-13.5],[-15.9,-13.8],[-9.3,-13.5],[-1.4,-13.7],[8.3,-13.6],[10.8,-13.4],[16.4,-13.7],[19.0,-13.4],
    [19.0,-37.4],[21.5,-37.9],[24.0,-37.2],[26.5,-37.6],[21.0,-41.2],[23.5,-40.8],[26.0,-41.4],[7.3,-40.9],[9.6,-41.3],
]
hiv_pre_active = [
    [-12.4,25.5],[-31.5,13.3],[-20.5,13.3],[-15.7,13.3],[-12.1,9.9],[-29.3,6.0],[-19.2,3.7],[-35.9,3.7],
    [-27.4,-1.4],[-25.8,-0.9],[-26.3,-1.7],[-8.2,-3.7],[18.1,-7.1],[17.0,-13.6],[-11.0,-27.2],[-0.3,-30.1],
    [11.8,-42.2],[24.5,2.0],
    [-45.0,7.7],[-43.9,6.8],[-43.3,9.4],[-42.8,6.0],[-42.2,5.1],[-41.3,6.8],[-40.6,6.0],[-40.0,6.5],
    [-43.3,4.3],[-42.4,4.3],[-41.6,5.1],[-44.6,8.5],
]

# ---------------- HIV fine-tuned ----------------
hiv_ft_inactive = [
    [9.4,42.9],
    [-4.2,39.3],[-1.1,38.5],[5.6,39.6],[7.4,38.4],[9.7,39.8],[12.9,38.9],[14.1,39.5],
    [-9.8,36.3],[1.6,35.1],[3.4,36.4],[5.7,35.0],[7.6,36.2],[9.4,35.2],[11.6,36.5],[14.9,35.0],[17.4,36.0],
    [-18.4,31.7],[-6.7,32.9],[-1.8,31.6],[0.4,32.8],[2.6,31.4],[4.5,32.9],[6.6,31.6],[8.4,32.7],[10.6,31.5],[12.4,32.6],
    [13.8,31.1],[16.1,32.8],[18.4,31.7],[20.6,32.5],
    [-10.8,29.4],[-4.4,28.2],[-2.6,29.6],[1.3,28.3],[3.6,29.5],[5.4,28.1],[7.6,29.7],[9.4,28.4],[11.6,29.6],[13.4,28.2],
    [15.6,29.5],[17.6,28.3],[23.3,28.9],
    [-27.0,24.9],[-12.8,26.1],[-8.6,25.0],[-5.9,26.3],[-3.6,24.8],[1.5,26.1],[3.4,24.7],[5.6,26.2],[7.4,24.9],[9.6,26.0],
    [11.4,24.6],[13.6,25.9],[15.4,24.8],[17.6,26.1],[19.6,25.0],[29.4,26.1],[30.4,24.6],
    [-27.1,21.3],[-18.6,22.6],[-16.9,21.4],[-12.8,22.8],[-9.1,21.6],[-5.1,22.5],[-1.2,21.3],[1.3,22.7],[3.6,21.5],[5.4,22.9],
    [7.6,21.4],[9.4,22.6],[11.6,21.2],[13.4,22.8],[15.6,21.6],[17.4,22.5],[19.6,21.1],[21.6,22.7],[24.8,21.8],[35.5,22.1],
    [-19.1,19.2],[-16.4,18.0],[-14.1,19.4],[-11.1,18.1],[-8.4,19.5],[-6.1,18.2],[-3.4,19.3],[-1.1,18.0],[1.1,19.4],[2.9,18.1],
    [5.1,19.6],[6.9,18.2],[9.1,19.3],[10.9,18.0],[13.1,19.5],[14.9,18.2],[17.1,19.4],[18.9,18.0],[21.6,19.2],[23.8,18.4],
    [-36.2,15.6],[-27.1,14.7],[-24.9,15.9],[-22.1,14.6],[-19.4,15.8],[-17.1,14.5],[-14.4,15.9],[-12.1,14.8],[-7.6,15.7],[-4.9,14.5],
    [-2.6,15.9],[0.1,14.6],[2.4,15.8],[5.1,14.4],[7.4,16.0],[10.1,14.7],[12.4,15.8],[15.1,14.5],[17.6,15.9],[20.9,14.8],
    [22.9,15.7],[24.6,14.6],[28.0,15.3],
    [-36.2,11.4],[-33.1,12.4],[-30.9,11.2],[-29.1,12.6],[-26.1,11.3],[-23.9,12.5],[-21.6,11.1],[-19.1,12.6],[-16.4,11.4],[-14.1,12.7],
    [-11.4,11.3],[-9.1,12.5],[-5.6,11.2],[-2.9,12.6],[-0.6,11.4],[2.1,12.7],[4.4,11.1],[7.1,12.4],[9.4,11.3],[12.1,12.6],
    [13.6,11.0],[16.6,12.5],[18.9,11.3],[22.1,12.4],[31.5,12.2],[32.6,11.2],
    [-33.1,9.0],[-30.9,7.8],[-28.1,9.1],[-24.1,7.9],[-21.4,9.2],[-19.1,7.7],[-16.9,9.0],[-14.6,7.9],[-11.9,9.3],[-10.4,7.6],
    [-8.1,8.9],[-5.4,7.8],[-3.1,9.2],[-0.4,7.9],[1.9,9.1],[4.6,7.7],[6.9,9.0],[9.6,7.8],[11.9,9.3],[13.6,7.9],
    [17.6,9.1],[20.1,7.8],[21.6,9.0],[22.8,8.0],
    [-36.4,5.6],[-34.1,4.5],[-31.9,5.8],[-29.1,4.4],[-26.9,5.7],[-25.1,4.3],[-21.6,5.6],[-19.4,4.6],[-17.1,5.9],[-12.9,4.4],
    [-10.4,5.7],[-8.1,4.3],[-5.4,5.8],[-3.1,4.5],[-0.4,5.7],[1.9,4.2],[4.6,5.6],[6.9,4.4],[9.6,5.9],[11.9,4.6],
    [13.6,5.5],[17.6,4.3],[20.1,5.8],[21.6,4.6],
    [-44.8,2.0],[-39.1,1.1],[-36.9,2.4],[-35.1,1.0],[-31.1,2.3],[-28.9,1.2],[-27.1,2.5],[-25.4,1.0],[-23.1,2.2],[-20.9,1.1],
    [-19.1,2.4],[-16.9,1.0],[-11.6,2.3],[-8.9,1.1],[-6.6,2.5],[-3.9,1.2],[-1.1,2.3],[1.3,0.9],[3.6,2.4],[5.4,1.1],
    [7.6,2.2],[9.4,0.9],[11.6,2.5],[13.6,1.1],[19.6,2.2],[22.1,1.0],[24.4,2.0],
    [-39.1,-1.1],[-36.9,-2.4],[-33.1,-1.2],[-30.9,-2.3],[-29.1,-1.0],[-26.9,-2.5],[-25.4,-1.1],[-21.1,-2.2],[-18.9,-1.0],[-16.6,-2.4],
    [-14.4,-1.2],[-10.9,-2.3],[-8.4,-1.0],[-6.1,-2.4],[-2.9,-1.1],[1.3,-2.3],[4.1,-1.0],[6.4,-2.5],[9.1,-1.2],[11.4,-2.2],
    [21.6,-1.1],[24.1,-2.4],[25.8,-1.3],
    [-39.1,-4.5],[-37.4,-5.8],[-33.1,-4.4],[-30.9,-5.7],[-28.6,-4.6],[-26.9,-5.9],[-21.1,-4.4],[-18.4,-5.6],[-16.9,-4.3],[-14.9,-5.8],
    [-12.6,-4.6],[-10.4,-5.9],[-6.1,-4.4],[-3.4,-5.7],[-1.1,-4.5],[1.6,-5.9],[3.4,-4.4],[5.6,-5.6],[7.9,-4.3],[10.6,-5.8],
    [13.6,-4.6],[17.6,-5.7],[20.1,-4.4],[24.9,-5.8],[26.9,-4.5],[28.9,-5.9],[32.0,-5.0],
    [-37.1,-7.9],[-34.9,-9.1],[-29.1,-7.8],[-26.9,-9.2],[-25.1,-7.7],[-22.9,-9.0],[-21.1,-7.9],[-18.9,-9.3],[-17.1,-7.8],[-14.9,-9.1],
    [-13.1,-7.7],[-10.9,-9.2],[-9.1,-7.9],[-4.6,-9.0],[-2.6,-7.8],[-0.4,-9.3],[1.6,-7.9],[3.4,-9.1],[5.6,-7.7],[7.4,-9.2],
    [9.6,-7.8],[11.4,-9.0],[13.6,-7.9],[15.6,-9.3],[18.1,-7.8],[21.4,-9.0],[25.9,-7.7],[27.9,-9.2],[29.8,-7.9],[31.9,-9.1],
    [33.9,-7.8],[36.1,-9.0],[38.0,-7.6],
    [-33.1,-11.3],[-30.9,-12.6],[-27.1,-11.2],[-24.9,-12.5],[-23.1,-11.4],[-20.9,-12.7],[-19.1,-11.1],[-16.9,-12.4],[-15.1,-11.3],[-12.9,-12.6],
    [-11.1,-11.2],[-8.9,-12.5],[-6.6,-11.4],[-4.4,-12.7],[-2.6,-11.1],[-0.4,-12.4],[1.4,-11.3],[5.6,-12.6],[7.4,-11.2],[9.6,-12.5],
    [11.4,-11.3],[13.6,-12.6],[17.6,-11.4],[21.6,-12.3],[24.1,-11.1],[25.9,-12.6],[28.1,-11.2],[29.9,-12.5],[32.1,-11.4],[33.9,-12.7],
    [-35.1,-14.7],[-32.9,-15.9],[-29.1,-14.6],[-26.9,-15.8],[-24.6,-14.5],[-22.4,-16.0],[-20.6,-14.7],[-18.4,-15.9],[-16.6,-14.6],[-14.4,-15.8],
    [-12.9,-14.5],[-10.4,-16.0],[-8.6,-14.7],[-5.9,-15.9],[-3.6,-14.6],[-0.6,-15.8],[1.6,-14.5],[3.4,-15.9],[5.6,-14.7],[7.4,-16.0],
    [9.6,-14.6],[11.4,-15.8],[13.6,-14.5],[15.6,-15.9],[18.1,-14.7],[21.6,-15.8],[27.1,-14.6],[28.9,-15.9],[31.1,-14.7],[32.9,-15.8],[34.9,-14.9],
    [-37.1,-18.1],[-35.4,-19.3],[-33.1,-18.0],[-30.9,-19.4],[-29.1,-18.2],[-26.9,-19.5],[-25.1,-18.1],[-22.9,-19.3],[-21.1,-18.0],[-18.9,-19.4],
    [-16.6,-18.2],[-14.4,-19.5],[-12.6,-18.1],[-10.4,-19.3],[-8.1,-18.0],[-5.9,-19.4],[-2.6,-18.2],[-0.6,-19.5],[1.4,-18.1],[7.6,-19.3],
    [9.4,-18.0],[11.6,-19.4],[13.6,-18.2],[21.6,-19.3],[24.1,-18.1],[25.9,-19.4],[28.1,-18.0],[29.9,-19.5],[31.9,-18.2],[36.0,-18.9],
    [-36.8,-22.1],[-29.1,-21.5],[-26.9,-22.8],[-25.1,-21.4],[-22.9,-22.6],[-21.1,-21.3],[-18.9,-22.7],[-17.1,-21.5],[-14.9,-22.8],[-13.1,-21.4],
    [-10.9,-22.6],[-8.6,-21.3],[-6.6,-22.7],[-4.4,-21.5],[-0.6,-22.8],[1.4,-21.4],[3.6,-22.6],[11.6,-21.3],[13.6,-22.7],[15.6,-21.5],
    [19.6,-22.8],[21.6,-21.4],[26.6,-22.6],[28.4,-21.3],[30.6,-22.7],[32.9,-21.8],
    [-34.1,-25.0],[-32.9,-26.2],[-29.1,-24.9],[-26.9,-26.1],[-25.1,-24.8],[-22.9,-26.3],[-21.1,-25.0],[-18.9,-26.1],[-17.1,-24.8],[-14.9,-26.2],
    [-12.6,-24.9],[-10.9,-26.3],[-8.6,-25.0],[-6.6,-26.1],[-3.4,-24.9],[1.4,-26.2],[3.6,-24.8],[5.4,-26.1],[7.6,-25.0],[9.6,-26.3],
    [11.1,-24.9],[13.6,-26.0],[24.4,-24.8],[26.6,-26.1],[28.8,-25.2],
    [-29.1,-28.3],[-26.9,-29.6],[-25.1,-28.2],[-22.9,-29.5],[-21.1,-28.4],[-18.9,-29.6],[-17.1,-28.2],[-14.9,-29.4],[-10.9,-28.3],[-8.6,-29.6],
    [-6.6,-28.4],[-3.7,-29.3],[3.6,-28.2],[5.4,-29.5],[7.6,-28.4],[11.6,-29.2],[17.7,-28.9],
    [-28.1,-31.7],[-25.9,-32.9],[-24.1,-31.6],[-21.9,-32.8],[-20.1,-31.5],[-17.9,-32.9],[-16.1,-31.8],[-12.1,-32.6],[-9.9,-31.7],[-7.1,-32.8],[0.4,-32.3],
    [-27.1,-35.1],[-24.9,-36.3],[-23.1,-35.0],[-20.9,-36.2],[-19.1,-35.2],[-16.9,-36.4],[-12.8,-35.2],[-10.1,-36.3],[-7.9,-35.1],[-2.6,-35.9],[5.5,-35.4],
    [-26.1,-38.5],[-23.9,-39.7],[-22.1,-38.6],[-19.9,-39.8],[-17.1,-38.7],[-12.8,-39.4],[-6.7,-39.1],[3.6,-38.6],[5.4,-39.8],[7.6,-38.5],[9.4,-39.6],
    [-24.4,-42.0],[-21.6,-43.1],[-15.9,-42.4],[-11.8,-42.8],[-3.7,-42.2],[1.4,-42.8],[7.0,-42.3],
    [-22.1,-45.6],[-14.8,-45.9],[-7.7,-46.2],[-1.1,-45.7],[6.5,-46.0],[-21.9,-47.8],
    [36.0,20.4],[-41.3,-11.9],[-39.7,-13.6],
    # denser core regions
    [1.5,34.0],[3.5,33.6],[5.6,34.1],[7.6,33.7],[9.6,34.2],[11.4,33.8],[15.3,33.9],[17.4,34.1],
    [0.3,30.5],[2.4,30.9],[4.4,30.4],[6.5,30.8],[8.5,30.3],[10.5,30.9],[12.5,30.5],[14.5,30.8],[16.6,30.4],[18.6,30.8],
    [2.4,27.3],[4.5,26.9],[6.5,27.4],[8.5,27.0],[10.5,27.5],[12.5,27.1],[14.5,27.4],[16.5,27.0],[18.6,27.3],[-2.3,27.1],
    [0.4,23.9],[2.4,23.5],[4.5,24.0],[6.5,23.6],[8.5,24.1],[10.5,23.7],[12.5,24.0],[14.5,23.6],[16.5,24.1],[18.6,23.7],[20.6,24.0],[-7.0,23.8],
    [-15.2,20.5],[-10.0,20.2],[2.4,20.6],[4.4,20.1],[6.4,20.7],[8.4,20.2],[10.4,20.6],[12.4,20.1],[14.4,20.7],[16.4,20.2],[18.4,20.6],[20.5,20.2],
    [-9.6,17.1],[-4.8,16.8],[-2.2,17.2],[1.0,16.9],[3.8,17.3],[6.3,16.8],[8.8,17.2],[11.3,16.9],[13.8,17.3],[16.3,16.8],[18.8,17.2],[21.3,16.9],
    [-20.4,13.7],[-17.9,13.4],[-15.3,13.8],[-4.2,13.5],[-1.6,13.9],[1.1,13.4],[3.6,13.8],[6.1,13.3],[8.6,13.7],[11.1,13.4],[14.0,13.8],[17.5,13.5],[20.0,13.7],
    [-25.0,10.3],[-22.6,10.0],[-20.3,10.5],[-17.8,10.1],[-15.3,10.4],[-12.6,10.0],[-4.3,10.3],[-1.8,10.0],[0.8,10.5],[3.3,10.1],
    [5.8,10.4],[8.3,10.0],[10.8,10.5],[13.2,10.2],[16.0,10.3],
    [-32.0,6.9],[-29.6,6.6],[-23.0,7.0],[-20.4,6.6],[-18.1,7.1],[-15.7,6.7],[-11.8,7.0],[-6.9,6.6],[-4.2,7.1],[-1.8,6.7],
    [0.8,7.0],[3.3,6.5],[5.8,7.0],[8.3,6.6],[10.8,7.1],[12.9,6.7],[18.7,6.9],[21.0,6.5],
    [-30.0,3.5],[-27.9,3.1],[-20.5,3.6],[-18.2,3.2],[-7.4,3.5],[-4.6,3.1],[-2.2,3.6],[0.4,3.2],[2.7,3.7],[5.0,3.3],
    [7.3,3.6],[9.7,3.1],[12.1,3.5],[18.7,3.4],[21.0,3.2],
    [-32.0,-13.7],[-29.0,-13.4],[-26.0,-13.8],[-23.8,-13.5],[-21.8,-13.9],[-19.8,-13.4],[-17.8,-13.7],[-15.8,-13.3],[-13.8,-13.8],[-11.8,-13.5],
    [-9.8,-13.9],[-7.5,-13.4],[-5.2,-13.7],[26.1,-13.6],[28.1,-13.3],[30.1,-13.8],[32.1,-13.4],
    [-34.0,-17.1],[-31.9,-16.8],[-29.9,-17.2],[-27.9,-16.9],[-25.9,-17.3],[-23.9,-16.8],[-21.9,-17.2],[-19.9,-16.9],[-17.9,-17.3],[-15.7,-16.8],
    [-13.7,-17.2],[-11.7,-16.9],[-9.5,-17.3],[-7.3,-16.8],[8.5,-17.1],[10.5,-16.8],[12.5,-17.2],[22.8,-17.0],[25.0,-16.8],[27.0,-17.2],
    [29.0,-16.9],[31.0,-17.2],[33.0,-16.8],
    [-34.0,-20.5],[-32.0,-20.2],[-30.0,-20.6],[-28.0,-20.3],[-26.0,-20.7],[-24.0,-20.2],[-22.0,-20.6],[-20.0,-20.3],[-18.0,-20.7],[-15.8,-20.2],
    [-13.6,-20.6],[-11.6,-20.3],[-9.4,-20.7],[-7.0,-20.2],[-1.6,-20.5],[0.4,-20.2],[12.6,-20.5],[22.8,-20.4],[25.0,-20.7],[27.0,-20.3],
    [29.0,-20.6],[31.0,-20.2],
    [-30.0,-23.9],[-28.0,-23.5],[-26.0,-24.0],[-24.0,-23.6],[-22.0,-24.1],[-20.0,-23.7],[-18.0,-24.0],[-16.0,-23.6],[-14.0,-24.1],[-12.0,-23.7],
    [-9.8,-24.0],[-7.6,-23.6],[-5.5,-24.1],[2.5,-23.8],[12.6,-23.9],[25.5,-23.7],[27.5,-24.0],[29.5,-23.6],
    [-30.0,-27.3],[-28.0,-26.9],[-26.0,-27.4],[-24.0,-27.0],[-22.0,-27.4],[-20.0,-27.0],[-18.0,-27.3],[-16.0,-26.9],[-13.8,-27.4],[-11.8,-27.0],
    [-9.7,-27.3],[-7.6,-26.9],[4.5,-27.2],[6.5,-27.4],
    [-28.0,-30.7],[-26.0,-30.3],[-24.0,-30.8],[-22.0,-30.4],[-20.0,-30.9],[-18.0,-30.5],[-16.0,-30.8],[-13.8,-30.4],[-11.5,-30.7],[-9.4,-30.3],
    [-26.0,-34.1],[-24.0,-33.7],[-22.0,-34.2],[-20.0,-33.8],[-18.0,-34.1],[-16.0,-33.7],[-11.4,-34.0],
    [-25.0,-37.5],[-23.0,-37.1],[-21.0,-37.6],[-19.0,-37.2],[-16.0,-37.4],
]
hiv_ft_active = [
    [-46.3,-16.2],[-45.5,-15.0],[-44.8,-17.0],[-44.3,-15.3],[-43.3,-17.0],[-42.8,-15.0],[-42.3,-17.9],[-41.3,-17.0],
    [-40.4,-18.7],[-43.5,-21.3],[-41.8,-16.2],[-38.0,-13.6],[-36.7,-12.8],[-36.2,-13.3],[-39.2,-15.0],[-45.1,-15.3],
]

W, H = 763, 749


def px(v):
    return v / W


def py(v):
    return 1 - v / H


# panel frames in pixels: (left, right, top, bottom)
frames = [
    (114.7, 415.0, 13.3, 207.3),
    (460.0, 760.0, 13.3, 207.3),
    (124.3, 420.0, 276.7, 469.3),
    (464.3, 760.7, 275.7, 469.3),
    (114.3, 415.0, 537.7, 732.3),
    (459.3, 760.0, 537.7, 732.3),
]
xranges = [[-24.0, 23.4], [-20.5, 21.6], [-28.4, 22.9], [-18.8, 16.1], [-49.6, 49.3], [-50.6, 41.1]]
yranges = [[-28.3, 28.3], [-28.3, 28.3], [-21.7, 22.9], [-21.7, 22.9], [-52.2, 47.1], [-52.2, 47.1]]
xticks = [[-20, -10, 0, 10, 20], [-20, -15, -10, -5, 0, 5, 10, 15, 20], [-20, -10, 0, 10, 20],
          [-15, -10, -5, 0, 5, 10, 15], [-40, -20, 0, 20, 40], [-40, -20, 0, 20, 40]]
yticks = [[-20, -10, 0, 10, 20], None, [-20, -15, -10, -5, 0, 5, 10, 15, 20], None, [-40, -20, 0, 20, 40], None]
titles = ["Pre-trained Fingerprints", "Fine-tuned Fingerprints"] * 3

series = [
    (bbbp_pre_pen, bbbp_pre_non, "Penetrating", "Non-Penetrating"),
    (bbbp_ft_pen, bbbp_ft_non, "Penetrating", "Non-Penetrating"),
    (clintox_pre_toxic, clintox_pre_non, "Toxic", "Non-Toxic"),
    (clintox_ft_toxic, clintox_ft_non, "Toxic", "Non-Toxic"),
    (hiv_pre_inactive, hiv_pre_active, "Inactive", "Active"),
    (hiv_ft_inactive, hiv_ft_active, "Inactive", "Active"),
]

fig = go.Figure()
MS = 7.8
for i, (a, b, na, nb) in enumerate(series):
    ax = "" if i == 0 else str(i + 1)
    fig.add_trace(go.Scatter(x=[p[0] for p in a], y=[p[1] for p in a], mode="markers", name=na,
                             xaxis="x" + ax, yaxis="y" + ax, showlegend=False,
                             marker=dict(color=BLUE, size=MS, line=dict(width=0))))
    fig.add_trace(go.Scatter(x=[p[0] for p in b], y=[p[1] for p in b], mode="markers", name=nb,
                             xaxis="x" + ax, yaxis="y" + ax, showlegend=False,
                             marker=dict(color=ORANGE, size=MS, line=dict(width=0))))

SANS = "Liberation Sans, Arial, sans-serif"
TICKFONT = dict(family=SANS, size=11, color="#333333")
layout = dict(width=W, height=H, margin=dict(l=0, r=0, t=0, b=0),
              paper_bgcolor="white", plot_bgcolor="white", showlegend=False)
annotations = []
shapes = []
for i in range(6):
    l, r, t, b = frames[i]
    ax = "" if i == 0 else str(i + 1)
    layout["xaxis" + ax] = dict(
        domain=[px(l), px(r)], range=xranges[i], anchor="y" + ax,
        tickvals=xticks[i], showgrid=False, zeroline=False,
        showline=True, mirror=True, linecolor="#cccccc", linewidth=1.2,
        ticks="outside", ticklen=5, tickcolor="rgba(0,0,0,0)", tickfont=TICKFONT,
    )
    ydict = dict(domain=[py(b), py(t)], range=yranges[i], anchor="x" + ax,
                 showgrid=False, zeroline=False, showline=True, mirror=True,
                 linecolor="#cccccc", linewidth=1.2, tickfont=TICKFONT)
    if yticks[i] is None:
        ydict.update(showticklabels=False, ticks="")
    else:
        ydict.update(tickvals=yticks[i], ticks="outside", ticklen=5, tickcolor="rgba(0,0,0,0)")
    layout["yaxis" + ax] = ydict
    annotations.append(dict(
        text=titles[i], x=px((l + r) / 2), y=py(t - 8), xref="paper", yref="paper",
        xanchor="center", yanchor="middle", showarrow=False,
        font=dict(family=SANS, size=10.7, color="#262626")))

for txt, yy in [("BBBP Dataset", 99), ("Clintox Dataset", 363), ("HIV Dataset", 624)]:
    annotations.append(dict(
        text=txt, x=px(-4.5), y=py(yy), xref="paper", yref="paper", xanchor="left", yanchor="middle",
        showarrow=False, borderpad=0, font=dict(family="Lato, sans-serif", size=12, color="#000000")))


# legends drawn as boxes with circle keys and text
def rounded_box(x0, y0, x1, y1, r=3.0):
    X = lambda v: "%.5f" % px(v)
    Y = lambda v: "%.5f" % py(v)
    return ("M %s,%s L %s,%s Q %s,%s %s,%s L %s,%s Q %s,%s %s,%s L %s,%s Q %s,%s %s,%s L %s,%s Q %s,%s %s,%s Z" % (
        X(x0 + r), Y(y0), X(x1 - r), Y(y0), X(x1), Y(y0), X(x1), Y(y0 + r),
        X(x1), Y(y1 - r), X(x1), Y(y1), X(x1 - r), Y(y1),
        X(x0 + r), Y(y1), X(x0), Y(y1), X(x0), Y(y1 - r),
        X(x0), Y(y0 + r), X(x0), Y(y0), X(x0 + r), Y(y0)))


legends = [
    ((120.0, 172.3, 227.7, 203.3), 133.3, (180.0, 194.0), 151.0, series[0][2:]),
    ((465.0, 18.3, 572.7, 49.3), 479.0, (26.0, 40.0), 496.0, series[1][2:]),
    ((129.3, 281.7, 207.3, 312.3), 142.3, (289.3, 303.3), 160.0, series[2][2:]),
    ((469.3, 433.3, 547.3, 464.0), 483.3, (441.7, 455.5), 500.0, series[3][2:]),
    ((340.7, 542.3, 410.0, 573.3), 354.0, (551.7, 565.0), 371.0, series[4][2:]),
    ((465.0, 541.7, 534.3, 572.7), 479.0, (550.7, 565.0), 495.5, series[5][2:]),
]
rad = 3.7
for box, mx, mys, tx, labels in legends:
    shapes.append(dict(type="path", path=rounded_box(*box), xref="paper", yref="paper",
                       fillcolor="rgba(255,255,255,0.8)", line=dict(color="#cccccc", width=1), layer="above"))
    for my, col, lab in zip(mys, (BLUE, ORANGE), labels):
        shapes.append(dict(type="circle", xref="paper", yref="paper",
                           x0=px(mx - rad), x1=px(mx + rad), y0=py(my + rad), y1=py(my - rad),
                           fillcolor=col, line=dict(width=0), layer="above"))
        annotations.append(dict(text=lab, x=px(tx), y=py(my), xref="paper", yref="paper",
                                xanchor="left", yanchor="middle", showarrow=False, borderpad=0,
                                font=dict(family=SANS, size=10, color="#262626")))

layout["annotations"] = annotations
layout["shapes"] = shapes
fig.update_layout(**layout)
fig.write_html("out.html", config={"displayModeBar": False},
               post_script="document.body.style.margin='0';document.body.style.overflow='hidden';")
